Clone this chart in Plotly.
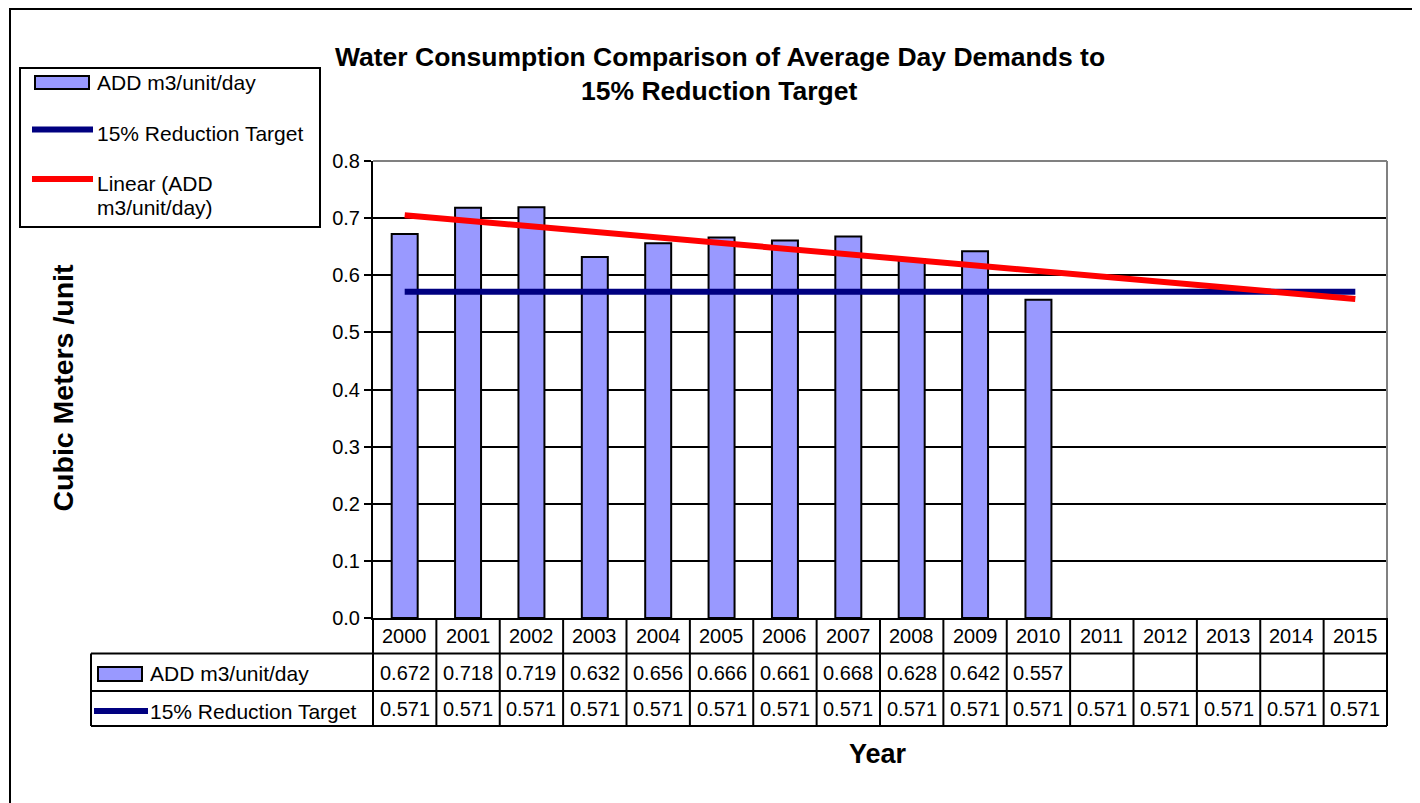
import numpy as np
import plotly.graph_objects as go

# ---------------- data ----------------
years = [str(y) for y in range(2000, 2016)]
add_values = [0.672, 0.718, 0.719, 0.632, 0.656, 0.666, 0.661, 0.668, 0.628, 0.642, 0.557,
              None, None, None, None, None]
target_values = [0.571] * 16
series_add = "ADD m3/unit/day"
series_target = "15% Reduction Target"
series_trend = "Linear (ADD m3/unit/day)"
title_line1 = "Water Consumption Comparison of Average Day Demands to"
title_line2 = "15% Reduction Target"
y_title = "Cubic Meters /unit"
x_title = "Year"

# linear trend (Excel-style forecast) from the measured ADD values
idx_known = [i for i, v in enumerate(add_values) if v is not None]
slope, intercept = np.polyfit(idx_known, [add_values[i] for i in idx_known], 1)
trend_values = [float(slope * i + intercept) for i in range(len(years))]

# ---------------- geometry helpers (page pixels) ----------------
OFF = 8                      # default body margin of the html page
W_PX, H_PX = 1420 - OFF, 803 - OFF
L, R, T, B = 373, 1387, 161, 618
PW, PH = R - L, B - T
FONT = "Liberation Sans, Arial, sans-serif"
BAR_FILL = "#9999FF"
NAVY = "#000080"
RED = "#FF0000"


def px(X):
    return (X - L) / PW


def py(Y):
    return (B - Y) / PH


n = len(years)
cat_idx = list(range(n))

fig = go.Figure()
fig.add_trace(go.Bar(x=years, y=add_values, name=series_add,
                     marker=dict(color=BAR_FILL, line=dict(color="black", width=2)),
                     showlegend=False))
fig.add_trace(go.Scatter(x=years, y=target_values, name=series_target, mode="lines",
                         line=dict(color=NAVY, width=6), showlegend=False))
fig.add_trace(go.Scatter(x=years, y=trend_values, name=series_trend, mode="lines",
                         line=dict(color=RED, width=6), showlegend=False))

shapes = []
# outer frame
shapes.append(dict(type="rect", xref="paper", yref="paper", x0=px(10), x1=px(1440),
                   y0=py(9), y1=py(840), line=dict(color="black", width=2)))
# plot border top/right (gray)
shapes.append(dict(type="line", xref="paper", yref="paper", x0=0, x1=1, y0=1, y1=1,
                   line=dict(color="#808080", width=2)))
shapes.append(dict(type="line", xref="paper", yref="paper", x0=1, x1=1, y0=0, y1=1,
                   line=dict(color="#808080", width=2)))

# data table grid
row_top, row1, row2, row_bot = 618, 653.5, 691, 726
for i in range(n + 1):
    xp = i / n
    shapes.append(dict(type="line", xref="paper", yref="paper", x0=xp, x1=xp,
                       y0=py(row_top), y1=py(row_bot), line=dict(color="black", width=2)))
for Y in (row1, row2, row_bot):
    shapes.append(dict(type="line", xref="paper", yref="paper", x0=px(91), x1=1,
                       y0=py(Y), y1=py(Y), line=dict(color="black", width=2)))
shapes.append(dict(type="line", xref="paper", yref="paper", x0=px(91), x1=px(91),
                   y0=py(row1), y1=py(row_bot), line=dict(color="black", width=2)))
# table swatches
shapes.append(dict(type="rect", xref="paper", yref="paper", x0=px(98), x1=px(142),
                   y0=py(667), y1=py(681), fillcolor=BAR_FILL, line=dict(color="black", width=2)))
shapes.append(dict(type="line", xref="paper", yref="paper", x0=px(94), x1=px(148),
                   y0=py(711), y1=py(711), line=dict(color=NAVY, width=6)))

# legend box
shapes.append(dict(type="rect", xref="paper", yref="paper", x0=px(20), x1=px(320),
                   y0=py(68), y1=py(227), fillcolor="white", line=dict(color="black", width=2)))
shapes.append(dict(type="rect", xref="paper", yref="paper", x0=px(35), x1=px(89),
                   y0=py(76), y1=py(89), fillcolor=BAR_FILL, line=dict(color="black", width=2)))
shapes.append(dict(type="line", xref="paper", yref="paper", x0=px(32), x1=px(93),
                   y0=py(129.5), y1=py(129.5), line=dict(color=NAVY, width=6)))
shapes.append(dict(type="line", xref="paper", yref="paper", x0=px(32), x1=px(93),
                   y0=py(179), y1=py(179), line=dict(color=RED, width=6)))

ann = []


def text(x, y, s, size, bold=False, xanchor="center", angle=0, xref="paper"):
    ann.append(dict(x=x, y=y, xref=xref, yref="paper", text=f"<b>{s}</b>" if bold else s,
                    showarrow=False, xanchor=xanchor, yanchor="middle", textangle=angle,
                    font=dict(family=FONT, size=size, color="black")))


# titles
text(px(719.5), py(57), title_line1, 26.5, bold=True)
text(px(719.5), py(91), title_line2, 26.5, bold=True)
text(px(62.5), py(388), y_title, 28.5, bold=True, angle=-90)
text(px(878), py(754), x_title, 27, bold=True)

# legend texts
text(px(95), py(83), series_add, 21, xanchor="left")
text(px(95), py(133), series_target, 21, xanchor="left")
text(px(95), py(183), "Linear (ADD", 21, xanchor="left")
text(px(95), py(207), "m3/unit/day)", 21, xanchor="left")

# table texts (x positions are category indices on the category axis)
text(px(148), py(673), series_add, 21, xanchor="left")
text(px(148), py(711), series_target, 21, xanchor="left")
for k, yr, a, t in zip(cat_idx, years, add_values, target_values):
    text(k, py(636), yr, 20, xref="x")
    if a is not None:
        text(k, py(673), f"{a:.3f}", 20, xref="x")
    text(k, py(709), f"{t:.3f}", 20, xref="x")

fig.update_layout(
    width=W_PX, height=H_PX,
    margin=dict(l=L - OFF, r=W_PX - (R - OFF), t=T - OFF, b=H_PX - (B - OFF), pad=0),
    paper_bgcolor="white", plot_bgcolor="white",
    bargap=0.59,
    shapes=shapes, annotations=ann,
    font=dict(family=FONT, color="black"),
)
fig.update_xaxes(type="category", range=[-0.5, n - 0.5], showticklabels=False, ticks="",
                 showline=True, linecolor="black", linewidth=2, showgrid=False, zeroline=False,
                 fixedrange=True)
fig.update_yaxes(range=[0, 0.8], dtick=0.1, tickformat=".1f", showgrid=True,
                 gridcolor="black", gridwidth=2, showline=True, linecolor="black", linewidth=2,
                 ticks="outside", ticklen=7, tickwidth=2, tickcolor="black",
                 tickfont=dict(family=FONT, size=20, color="black"), zeroline=False,
                 fixedrange=True)

fig.write_html("out.html")
